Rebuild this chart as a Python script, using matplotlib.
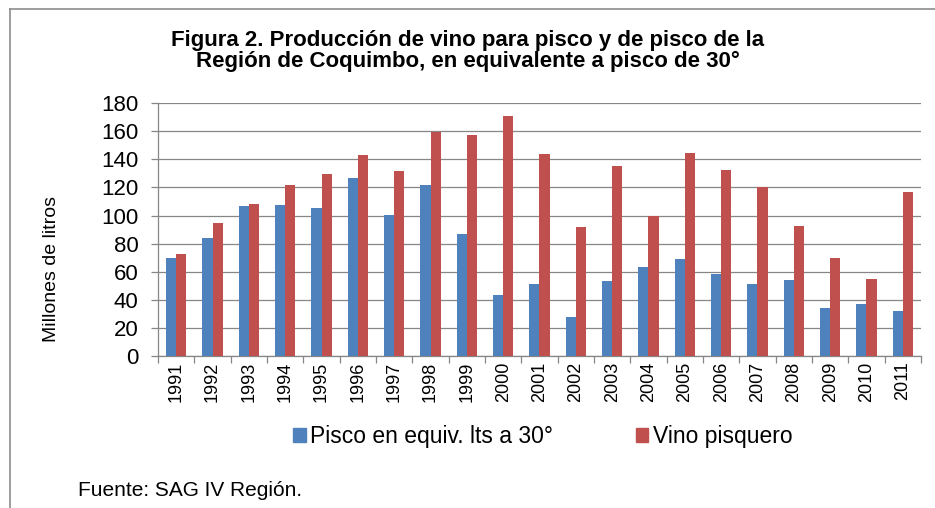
import matplotlib
matplotlib.use("Agg")
import matplotlib.pyplot as plt
from matplotlib.patches import Patch
from matplotlib.lines import Line2D
import numpy as np

plt.rcParams['font.family'] = ['Liberation Sans', 'DejaVu Sans']

# Datos (millones de litros)
years = ["1991", "1992", "1993", "1994", "1995", "1996", "1997", "1998", "1999", "2000", "2001",
         "2002", "2003", "2004", "2005", "2006", "2007", "2008", "2009", "2010", "2011"]
pisco = [69.5, 84.2, 106.8, 107.3, 105.3, 126.7, 100.4, 121.5, 86.6, 43.5, 51.6,
         27.8, 53.1, 63.1, 68.8, 58.5, 51.1, 53.8, 34.5, 36.9, 32.1]
vino = [73, 94.9, 108.2, 121.5, 129.4, 143.4, 131.7, 159.3, 157.4, 170.7, 143.9,
        91.8, 135.1, 99.4, 144.6, 132.2, 120.1, 92.3, 69.9, 54.7, 116.5]
y_ticks = [0, 20, 40, 60, 80, 100, 120, 140, 160, 180]

BLUE = "#4F81BD"
RED = "#C0504D"
GRID = "#868686"

fig = plt.figure(figsize=(9.35, 5.08), dpi=100)
ax = fig.add_axes([0.169, 0.299, 0.816, 0.498])

x = np.arange(len(years))
w = 0.28
ax.bar(x - w / 2, pisco, w, color=BLUE, zorder=3)
ax.bar(x + w / 2, vino, w, color=RED, zorder=3)

ax.set_xlim(-0.5, len(years) - 0.5)
ax.set_ylim(0, 180)
ax.set_yticks(y_ticks)
ax.yaxis.grid(True, color=GRID, linewidth=0.9, zorder=0)
ax.set_axisbelow(True)

ax.set_xticks(x)
ax.set_xticklabels(years, rotation=90, fontsize=13)
ax.set_xticks(np.arange(-0.5, len(years), 1.0), minor=True)
ax.tick_params(axis="x", which="major", length=0, pad=4)
ax.tick_params(axis="x", which="minor", length=5, color=GRID, width=0.9)
ax.tick_params(axis="y", length=5, color=GRID, width=0.9, labelsize=16, pad=9)

for s in ["top", "right"]:
    ax.spines[s].set_visible(False)
for s in ["left", "bottom"]:
    ax.spines[s].set_color(GRID)
    ax.spines[s].set_linewidth(0.9)

fig.text(52 / 935, 0.47, "Millones de litros", rotation=90, fontsize=14,
         ha="center", va="center")

# Titulo
fig.text(0.5, 0.9, "Figura 2. Producción de vino para pisco y de pisco de la\n"
         "Región de Coquimbo, en equivalente a pisco de 30°",
         ha="center", va="center", fontsize=16, fontweight="bold", linespacing=1.0)

# Leyenda
handles = [Patch(color=BLUE), Patch(color=RED)]
fig.legend(handles, ["Pisco en equiv. lts a 30°", "Vino pisquero"], loc="center left",
           bbox_to_anchor=(293 / 935, 0.14), ncol=2, frameon=False, fontsize=16.5,
           handlelength=0.55, handleheight=0.55, handletextpad=0.2, columnspacing=3.6,
           borderpad=0, borderaxespad=0)

fig.text(0.083, 0.035, "Fuente: SAG IV Región.", fontsize=15, ha="left", va="center")

# Marco
fig.add_artist(Line2D([0.0107, 0.0107], [0.0, 0.982], color="#8C8C8C", linewidth=1.2,
                      transform=fig.transFigure))
fig.add_artist(Line2D([0.0107, 1.0], [0.982, 0.982], color="#8C8C8C", linewidth=1.2,
                      transform=fig.transFigure))

fig.savefig("out.png", dpi=100)
